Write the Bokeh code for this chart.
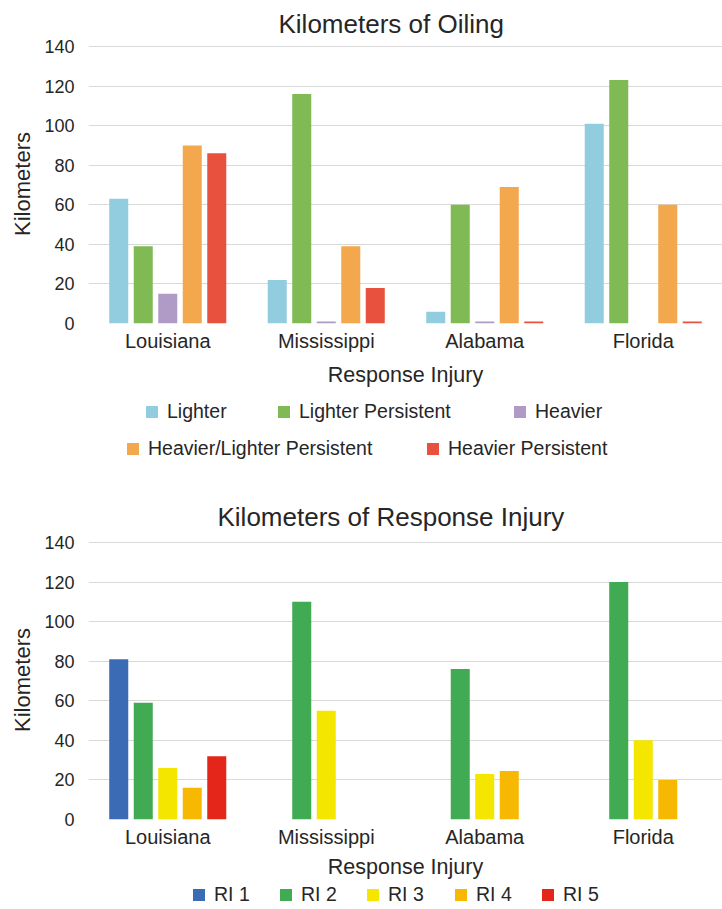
from bokeh.plotting import figure
from bokeh.models import (ColumnDataSource, FactorRange, Range1d, SingleIntervalTicker,
                          Legend, LegendItem, Title)
from bokeh.transform import dodge
from bokeh.layouts import column
from bokeh.embed import file_html
from bokeh.resources import INLINE

# ---------------- data ----------------
states = ["Louisiana", "Mississippi", "Alabama", "Florida"]

oil_series = ["Lighter", "Lighter Persistent", "Heavier",
              "Heavier/Lighter Persistent", "Heavier Persistent"]
lighter = [63, 22, 6, 101]
lighter_persistent = [39, 116, 60, 123]
heavier = [15, 1, 1, 0]
heavier_lighter_persistent = [90, 39, 69, 60]
heavier_persistent = [86, 18, 1, 1]
oil_colors = ["#92CDDF", "#7FBA55", "#B09AC6", "#F3A84D", "#E8513E"]

ri_series = ["RI 1", "RI 2", "RI 3", "RI 4", "RI 5"]
ri1 = [81, 0, 0, 0]
ri2 = [59, 110, 76, 120]
ri3 = [26, 55, 23, 40]
ri4 = [16, 0, 24.5, 20]
ri5 = [32, 0, 0, 0]
ri_colors = ["#3B6BB4", "#41AB54", "#F5E600", "#F6B800", "#E32619"]

y_ticks_interval = 20
FONT = "Liberation Sans"
TXT = "#262626"


def make_source(values):
    return ColumnDataSource(dict(state=states, **{f"s{i}": v for i, v in enumerate(values)}))


def make_fig(title, title_offset, title_standoff, top, bottom, label_standoff, src, series, colors):
    p = figure(x_range=FactorRange(factors=states, range_padding=0),
               y_range=Range1d(0, 141), frame_width=634, frame_height=279,
               output_backend="svg", toolbar_location=None,
               min_border_left=88, min_border_right=0,
               min_border_top=top, min_border_bottom=bottom)
    p.title = Title(text=title, align="left", offset=title_offset, standoff=title_standoff,
                    text_font=FONT, text_font_size="26px",
                    text_font_style="normal", text_color=TXT)
    step = 0.1546
    for i, (name, col) in enumerate(zip(series, colors)):
        p.vbar(x=dodge("state", (i - 2) * step, range=p.x_range), top=f"s{i}",
               width=0.12, source=src, fill_color=col, line_color=None)
    p.outline_line_color = None
    p.xgrid.grid_line_color = None
    p.ygrid.grid_line_color = "#D9D9D9"
    p.ygrid.grid_line_width = 1.2
    p.yaxis.ticker = SingleIntervalTicker(interval=y_ticks_interval)
    for ax in (p.xaxis[0], p.yaxis[0]):
        ax.axis_line_color = None
        ax.major_tick_line_color = None
        ax.minor_tick_line_color = None
        ax.major_label_text_font = FONT
        ax.major_label_text_color = TXT
        ax.axis_label_text_font = FONT
        ax.axis_label_text_font_style = "normal"
        ax.axis_label_text_color = TXT
    p.xaxis.major_label_text_font_size = "20px"
    p.xaxis.major_label_standoff = 0
    p.xaxis.axis_label = "Response Injury"
    p.xaxis.axis_label_text_font_size = "21.5px"
    p.xaxis.axis_label_standoff = label_standoff
    p.yaxis.major_label_text_font_size = "18px"
    p.yaxis.major_label_standoff = 8
    p.yaxis.axis_label = "Kilometers"
    p.yaxis.axis_label_text_font_size = "22px"
    p.yaxis.axis_label_standoff = 6
    return p


def make_legend_fig(height, src, series, colors, positions):
    # legend-only strip: proxy bars use the chart's data but lie outside this strip's ranges
    lp = figure(width=722, height=height, x_range=Range1d(-2, -1), y_range=Range1d(-2, -1),
                x_axis_type=None, y_axis_type=None, output_backend="svg",
                toolbar_location=None, min_border=0, min_border_left=0,
                min_border_right=0, min_border_top=0, min_border_bottom=0)
    lp.outline_line_color = None
    lp.xgrid.grid_line_color = None
    lp.ygrid.grid_line_color = None
    for i, (name, col, (lx, ly)) in enumerate(zip(series, colors, positions)):
        r = lp.vbar(x=f"s{i}", top=f"s{i}", width=0.1, source=src,
                    fill_color=col, line_color=None)
        lg = Legend(items=[LegendItem(label=name, renderers=[r])], location=(lx, ly),
                    orientation="horizontal", padding=0, margin=0,
                    border_line_color=None, background_fill_alpha=0,
                    glyph_width=15, glyph_height=15, label_standoff=8,
                    label_text_font=FONT, label_text_font_size="19.5px",
                    label_text_color=TXT)
        lp.add_layout(lg, "center")
    return lp


src1 = make_source([lighter, lighter_persistent, heavier,
                    heavier_lighter_persistent, heavier_persistent])
src2 = make_source([ri1, ri2, ri3, ri4, ri5])

p1 = make_fig("Kilometers of Oiling", 190, 12, 40, 70, 8, src1, oil_series, oil_colors)
l1 = make_legend_fig(87, src1, oil_series, oil_colors,
                     [(56, 57), (188, 57), (424, 57), (37, 20), (337, 20)])

p2 = make_fig("Kilometers of Response Injury", 129, 17, 60, 55, 4, src2, ri_series, ri_colors)
l2 = make_legend_fig(26, src2, ri_series, ri_colors,
                     [(103, 1), (190, 1), (277, 1), (365, 1), (452, 1)])

layout = column(p1, l1, p2, l2, spacing=0)
open("out.html", "w").write(file_html(layout, INLINE))
